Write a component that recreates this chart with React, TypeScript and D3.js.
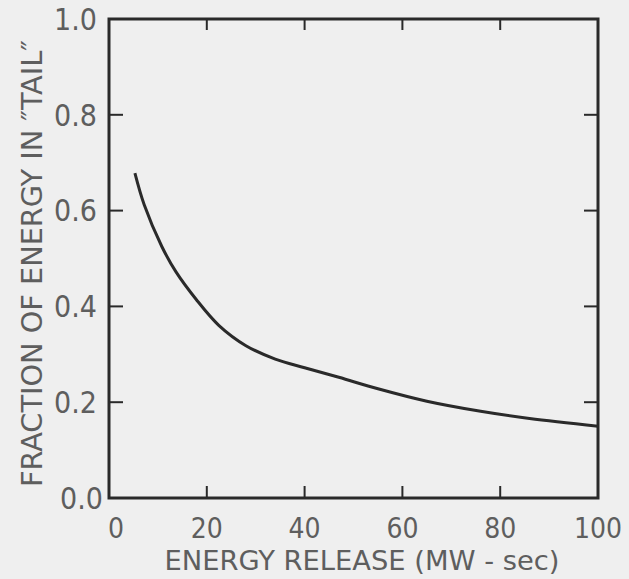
import React from "react";
import * as d3 from "d3";

const energyRelease = [5.3, 7.2, 10.8, 13.7, 17.8, 22.5, 28, 34, 40, 47, 55, 65, 76, 86, 100];
const tailFraction = [0.678, 0.612, 0.525, 0.472, 0.415, 0.36, 0.318, 0.29, 0.272, 0.252, 0.228, 0.202, 0.181, 0.166, 0.15];
const xTicks = [0, 20, 40, 60, 80, 100];
const yTicks = [0, 0.2, 0.4, 0.6, 0.8, 1.0];
const xTitle = "ENERGY RELEASE (MW - sec)";
const yTitle = "FRACTION OF ENERGY IN \u2033TAIL\u2033";

const W = 629, H = 579;
const L = 109, R = 598, T = 19, B = 498;
const FONT = "'DejaVu Sans Condensed', 'Liberation Sans Narrow', 'DejaVu Sans', sans-serif";

export default function App() {
  const x = d3.scaleLinear().domain([0, 100]).range([L, R]);
  const y = d3.scaleLinear().domain([0, 1]).range([B, T]);
  const pts = energyRelease.map((e, i) => [e, tailFraction[i]] as [number, number]);
  const line = d3.line<[number, number]>().x(d => x(d[0])).y(d => y(d[1])).curve(d3.curveCatmullRom.alpha(0.5));
  const ink = "#2a2a2a";
  const txt = "#5e5e5e";
  const inner = [20, 40, 60, 80];
  const innerY = [0.2, 0.4, 0.6, 0.8];
  return (
    <svg width={W} height={H} style={{ position: "absolute", left: 0, top: 0, background: "#efefef" }}>
      <rect x={0} y={0} width={W} height={H} fill="#efefef" />
      <rect x={L} y={T} width={R - L} height={B - T} fill="none" stroke={ink} strokeWidth={3} />
      {inner.map(v => (
        <g key={"xt" + v}>
          <line x1={x(v)} x2={x(v)} y1={B} y2={B - 12} stroke={ink} strokeWidth={2} />
          <line x1={x(v)} x2={x(v)} y1={T} y2={T + 11} stroke={ink} strokeWidth={2} />
        </g>
      ))}
      {innerY.map(v => (
        <g key={"yt" + v}>
          <line x1={L} x2={L + 14} y1={y(v)} y2={y(v)} stroke={ink} strokeWidth={2} />
          <line x1={R} x2={R - 14} y1={y(v)} y2={y(v)} stroke={ink} strokeWidth={2} />
        </g>
      ))}
      <path d={line(pts) || ""} fill="none" stroke={ink} strokeWidth={3} />
      {yTicks.map(v => (
        <text key={"yl" + v} x={L - 12 + (v === 0 ? 6 : 0)} y={y(v)} dy="0.36em" textAnchor="end" fontFamily={FONT} fontSize={30} fill={txt}>
          {v.toFixed(1)}
        </text>
      ))}
      {xTicks.map(v => (
        <text key={"xl" + v} x={x(v) + (v === 0 ? 7 : 0)} y={538} textAnchor="middle" fontFamily={FONT} fontSize={28} fill={txt}>
          {v}
        </text>
      ))}
      <text x={362} y={570} textAnchor="middle" fontFamily={FONT} fontSize={27} fill={txt} textLength={395} lengthAdjust="spacingAndGlyphs">
        {xTitle}
      </text>
      <text transform={`translate(42,${(487 + 40) / 2}) rotate(-90)`} textAnchor="middle" fontFamily={FONT} fontSize={28} fill={txt} textLength={447} lengthAdjust="spacingAndGlyphs">
        {yTitle}
      </text>
    </svg>
  );
}
